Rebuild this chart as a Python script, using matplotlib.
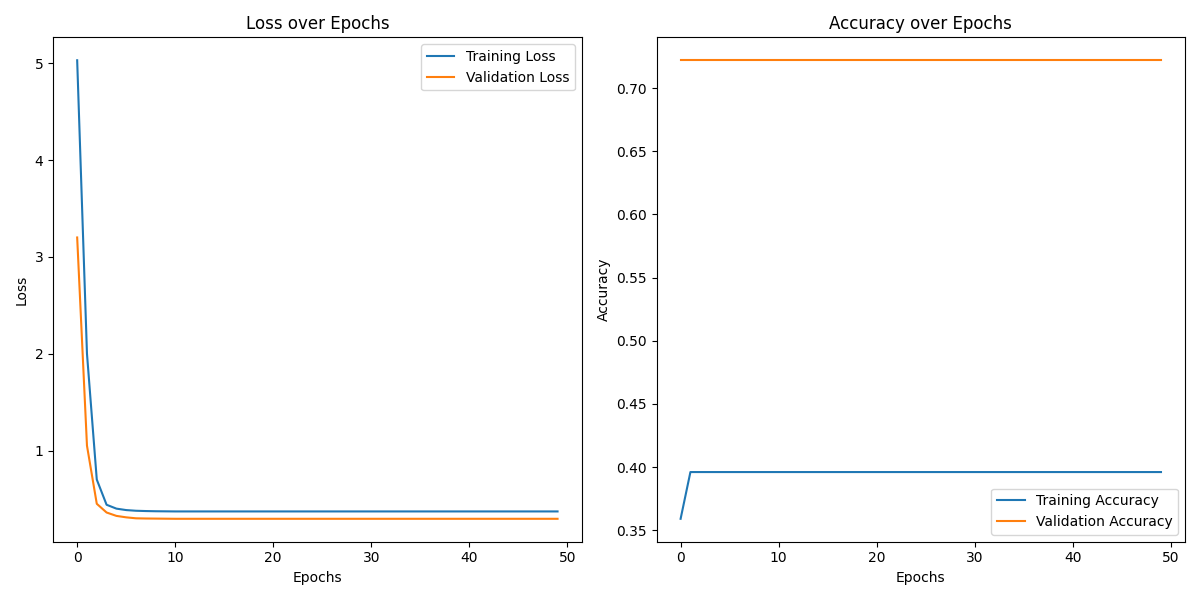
import matplotlib
matplotlib.use("Agg")
from matplotlib import pyplot as plt

epochs = list(range(50))
train_loss = [5.03, 2.0, 0.7, 0.44, 0.40, 0.385, 0.378, 0.375, 0.373, 0.372] + [0.371] * 40
val_loss = [3.2, 1.05, 0.45, 0.36, 0.325, 0.31, 0.30, 0.298, 0.297, 0.296] + [0.295] * 40
train_acc = [0.359] + [0.396] * 49
val_acc = [0.722] * 50

fig, (ax1, ax2) = plt.subplots(1, 2, figsize=(12, 6), dpi=100)

ax1.plot(epochs, train_loss, label='Training Loss')
ax1.plot(epochs, val_loss, label='Validation Loss')
ax1.set_title('Loss over Epochs')
ax1.set_xlabel('Epochs')
ax1.set_ylabel('Loss')
ax1.legend()

ax2.plot(epochs, train_acc, label='Training Accuracy')
ax2.plot(epochs, val_acc, label='Validation Accuracy')
ax2.set_title('Accuracy over Epochs')
ax2.set_xlabel('Epochs')
ax2.set_ylabel('Accuracy')
ax2.legend()

plt.tight_layout()
plt.savefig("out.png")
